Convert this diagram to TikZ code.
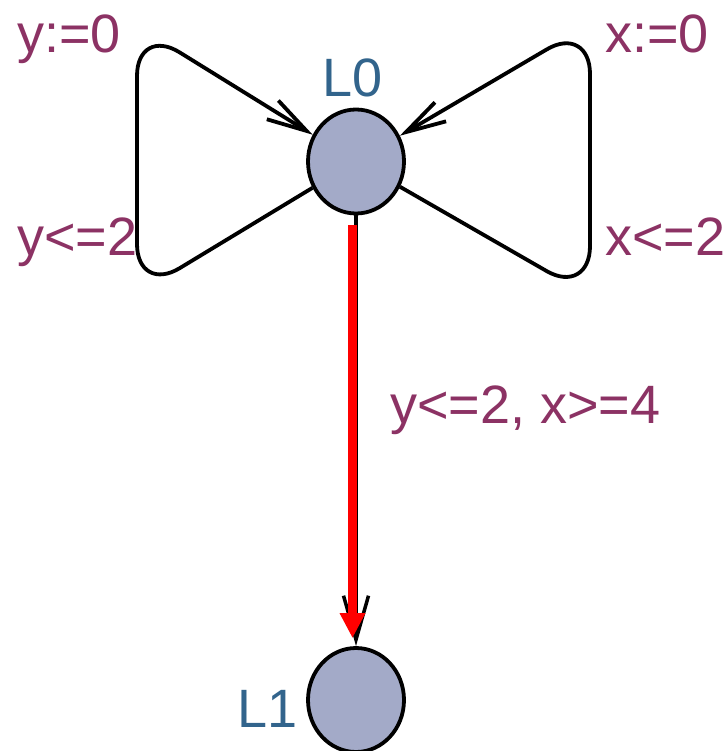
\documentclass[tikz,border=0pt]{standalone}
\usepackage{fontspec}
\setmainfont{Liberation Sans}
\usetikzlibrary{arrows.meta,calc,shapes.geometric}
\definecolor{lblc}{RGB}{140,50,100}
\definecolor{namec}{RGB}{50,100,140}
\definecolor{locfill}{RGB}{163,170,200}
\begin{document}
\begin{tikzpicture}[x=1pt,y=-1pt,
  loc/.style={ellipse, draw=black, line width=3.8pt, fill=locfill,
    minimum width=96pt, minimum height=104pt, inner sep=0pt},
  lbl/.style={text=lblc, inner sep=0pt, anchor=base west,
    font=\fontsize{54}{54}\selectfont},
  locname/.style={text=namec, inner sep=0pt, anchor=base west,
    font=\fontsize{54}{54}\selectfont},
  edgeline/.style={draw=black, line width=3.8pt, rounded corners=50pt},
  barb/.style={-{Straight Barb[length=40pt,width=22pt]}}
]
\useasboundingbox (0,0) rectangle (727,751);
\fill[white] (0,0) rectangle (727,751);

\node[loc] (L0) at (356,161.5) {};
\node[loc] (L1) at (356,700) {};

% self loops
\draw[edgeline, barb] (L0) -- (137,294) -- (137,26) -- (L0);
\draw[edgeline, barb] (L0) -- (590,296) -- (590,24) -- (L0);

% straight edge
\draw[draw=black, line width=3.5pt, -{Straight Barb[length=44pt,width=25pt]}] (L0) -- (L1);
\draw[draw=red, line width=9pt, -{Triangle[length=25pt,width=24pt]}]
  ($(L0.south)+(-3.5,10)$) -- ($(L1.north)+(-3.5,-8)$);

% labels
\node[locname] (n0) at (322,97) {L0};
\node[locname] (n1) at (237,727) {L1};
\node[lbl] (a1) at (17,53) {y:=0};
\node[lbl] (a2) at (605,53) {x:=0};
\node[lbl] (g1) at (17,255) {y<=2};
\node[lbl] (g2) at (605,255) {x<=2};
\node[lbl] (g3) at (390,423) {y<=2, x>=4};
\end{tikzpicture}
\end{document}
